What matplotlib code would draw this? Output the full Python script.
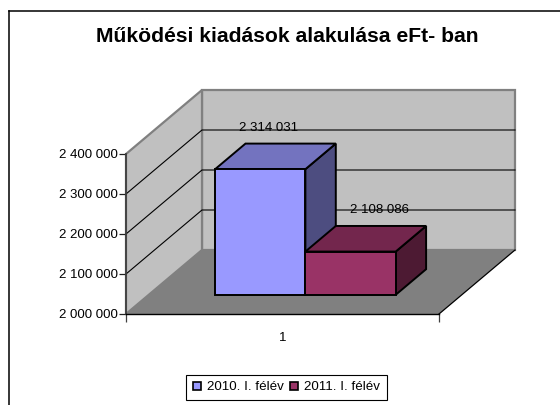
import matplotlib
matplotlib.use("Agg")
import matplotlib.pyplot as plt
from matplotlib.patches import Polygon, Patch
from matplotlib.lines import Line2D

plt.rcParams['font.family'] = ['Liberation Sans', 'DejaVu Sans']

title = "Működési kiadások alakulása eFt- ban"
series_names = ["2010. I. félév", "2011. I. félév"]
series_values = [2314031, 2108086]
series_labels = ["2 314 031", "2 108 086"]
category_labels = ["1"]
y_ticks = [2000000, 2100000, 2200000, 2300000, 2400000]
y_tick_labels = ["2 000 000", "2 100 000", "2 200 000", "2 300 000", "2 400 000"]
front_colors = ["#9999FF", "#993366"]
top_colors = ["#7373BF", "#73264D"]
side_colors = ["#4D4D80", "#4D1A33"]

W, H = 560, 405
fig = plt.figure(figsize=(W / 100, H / 100), dpi=100, facecolor="white")

fig.add_artist(Line2D([8.5 / W, 8.5 / W], [0, 1 - 10.5 / H], color="black", lw=1.1))
fig.add_artist(Line2D([8.5 / W, 1], [1 - 10.5 / H, 1 - 10.5 / H], color="black", lw=1.1))

L, R, B, T = 126, 439, 314, 154
ax = fig.add_axes([L / W, 1 - B / H, (R - L) / W, (B - T) / H])
ax.set_xlim(0, 1)
ax.set_ylim(y_ticks[0], y_ticks[-1])
ax.patch.set_visible(False)

V_SPAN = y_ticks[-1] - y_ticks[0]
DX = 76 / (R - L)
DY = 64 / (B - T) * V_SPAN


def proj(x, v, d):
    """Oblique projection of (x, value, depth 0..1) to axes data coords."""
    return (x + d * DX, v + d * DY)


def poly(pts, fc, ec="none", lw=0, z=1):
    ax.add_patch(Polygon([proj(*p) for p in pts], closed=True, facecolor=fc,
                         edgecolor=ec, linewidth=lw, zorder=z, clip_on=False,
                         joinstyle="miter"))


v0, v1 = y_ticks[0], y_ticks[-1]
wall = "#C0C0C0"
floor = "#808080"
edge = "#808080"

poly([(0, v0, 1), (1, v0, 1), (1, v1, 1), (0, v1, 1)], wall, edge, 1.6, 1)
poly([(0, v0, 0), (0, v0, 1), (0, v1, 1), (0, v1, 0)], wall, edge, 1.6, 1)
poly([(0, v0, 0), (1, v0, 0), (1, v0, 1), (0, v0, 1)], floor, "none", 0, 1.5)

for v in y_ticks[1:-1]:
    a, b, c = proj(0, v, 0), proj(0, v, 1), proj(1, v, 1)
    ax.plot([a[0], b[0], c[0]], [a[1], b[1], c[1]], color="black", lw=0.8,
            zorder=2, clip_on=False, solid_joinstyle="miter")

a, b = proj(1, v0, 0), proj(1, v0, 1)
ax.plot([a[0], b[0]], [a[1], b[1]], color="black", lw=0.9, zorder=2, clip_on=False)

BAR_W = 90.3 / (R - L)
bar_x0 = 66.3 / (R - L)
d0, d1 = 0.30, 0.70
for i, val in enumerate(series_values):
    x0 = bar_x0 + i * BAR_W
    x1 = x0 + BAR_W
    z = 3 + i
    poly([(x1, v0, d0), (x1, v0, d1), (x1, val, d1), (x1, val, d0)], side_colors[i], "black", 1.4, z)
    poly([(x0, val, d0), (x1, val, d0), (x1, val, d1), (x0, val, d1)], top_colors[i], "black", 1.4, z)
    poly([(x0, v0, d0), (x1, v0, d0), (x1, val, d0), (x0, val, d0)], front_colors[i], "black", 1.4, z)

label_pos = [(0.454, 2465000), (0.81, 2260000)]
for (lx, lv), s in zip(label_pos, series_labels):
    ax.text(lx, lv, s, ha="center", va="center", fontsize=9.5, color="black",
            zorder=6, clip_on=False)

for s in ("top", "right"):
    ax.spines[s].set_visible(False)
ax.spines["left"].set_color("#404040")
ax.spines["left"].set_linewidth(1.3)
ax.spines["left"].set_zorder(5)
ax.spines["bottom"].set_color("black")
ax.spines["bottom"].set_linewidth(1.0)
ax.spines["bottom"].set_zorder(5)
ax.set_yticks(y_ticks, y_tick_labels, fontsize=9.5)
ax.tick_params(axis="y", length=5, width=0.9, pad=1, color="#202020")
ax.set_xticks([0, 1], ["", ""])
ax.tick_params(axis="x", which="major", length=6, width=0.9, color="#404040")
ax.set_xticks([0.5], category_labels, minor=True, fontsize=9.5)
ax.tick_params(axis="x", which="minor", length=0, pad=13)

fig.text(287.5 / W, 1 - 36 / H, title, ha="center", va="center",
         fontsize=15.2, fontweight="bold", color="black")

handles = [Patch(facecolor=c, edgecolor="black", linewidth=1.2) for c in front_colors]
leg = fig.legend(handles, series_names, loc="center",
                 bbox_to_anchor=(286.5 / W, 1 - 387.5 / H), ncol=2, frameon=True,
                 fancybox=False, framealpha=1, edgecolor="black", fontsize=9.6,
                 handlelength=0.6, handleheight=0.6, handletextpad=0.4,
                 columnspacing=0.5, borderpad=0.52, borderaxespad=0)
leg.get_frame().set_linewidth(0.8)

fig.savefig("out.png", dpi=100)
